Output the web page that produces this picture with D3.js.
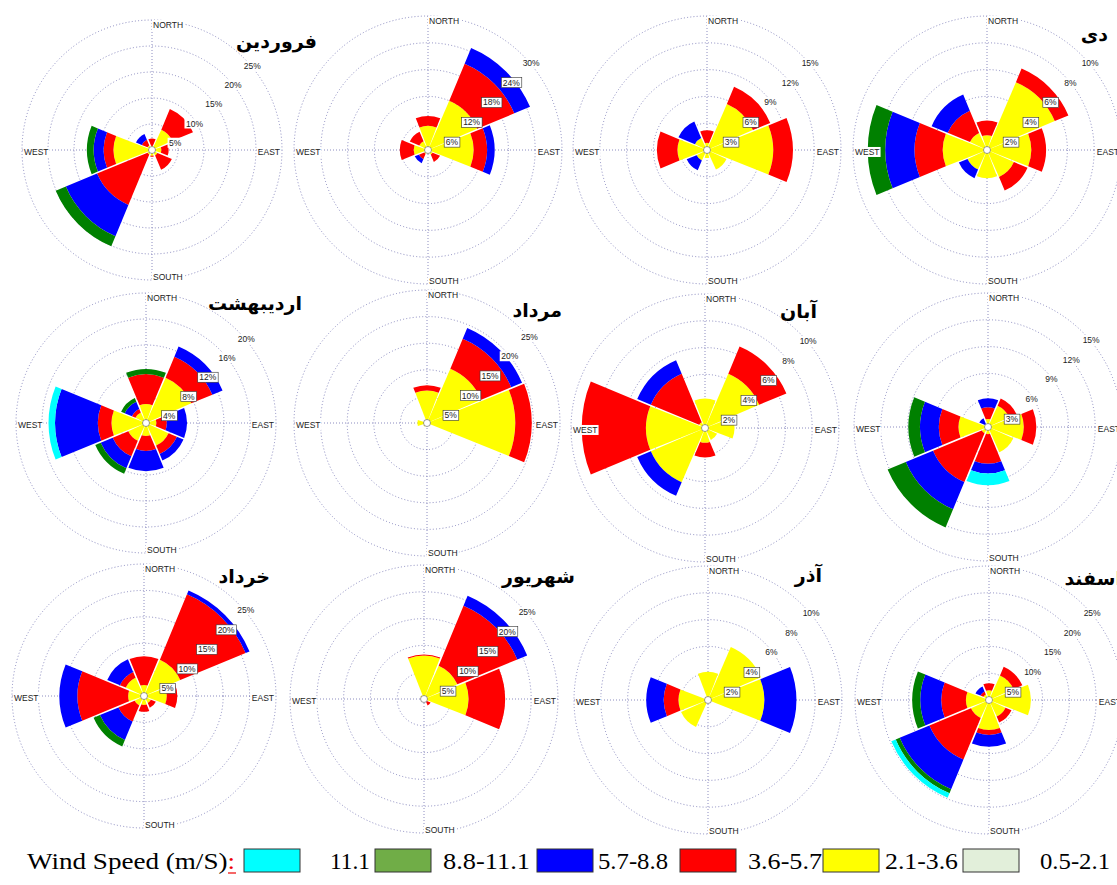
<!DOCTYPE html>
<html>
<head>
<meta charset="utf-8">
<script src="https://cdn.jsdelivr.net/npm/d3@7"></script>
<style>
  body { margin: 0; background: #fff; }
</style>
</head>
<body>
<svg id="chart" width="1117" height="885"></svg>
<script>
// sectors, clockwise from north
const directions = ["N", "NE", "E", "SE", "S", "SW", "W", "NW"];
const speedClasses = ["0.5-2.1", "2.1-3.6", "3.6-5.7", "5.7-8.8", "8.8-11.1", "11.1"];
const speedColors = ["#e2efda", "#ffff00", "#ff0000", "#0000ff", "#008000", "#00ffff"];
const legendColors = ["#e2efda", "#ffff00", "#ff0000", "#0000ff", "#70ad47", "#00ffff"];

const monthTitles = ["فروردین", "", "", "دی", "اردیبهشت", "مرداد", "آبان", "", "خرداد", "شهریور", "آذر", "اسفند"];
const ringMax = [25, 30, 15, 10, 20, 25, 10, 15, 25, 25, 10, 25];

// percent frequency per direction (rows) and speed class (columns)
const farvardin = [
    [0, 0.8, 1.4, 0, 0, 0],
    [0, 4.3, 4.3, 0, 0, 0],
    [0, 1.8, 1.4, 0, 0, 0],
    [0, 1.2, 3.0, 0, 0, 0],
    [0, 1.1, 0.2, 0, 0, 0],
    [0, 1.0, 10.5, 6.5, 2.1, 0],
    [0, 7.4, 1.9, 1.9, 1.3, 0],
    [0, 1.0, 1.2, 1.2, 0, 0]
];
const tir = [
    [0, 5.4, 2.2, 0, 0, 0],
    [0, 12.0, 9.0, 3.8, 0, 0],
    [0, 10.2, 3.0, 1.7, 0, 0],
    [0, 1.2, 1.8, 0, 0, 0],
    [0, 0.8, 0, 0, 0, 0],
    [0, 1.0, 1.3, 1.0, 0, 0],
    [0, 3.2, 3.1, 0, 0, 0],
    [0, 2.2, 2.3, 0, 0, 0]
];
const mehr = [
    [0, 0.8, 1.4, 0, 0, 0],
    [0, 5.6, 2.1, 0, 0, 0],
    [0, 7.4, 2.2, 0, 0, 0],
    [0, 2.4, 0, 0, 0, 0],
    [0, 0.9, 0, 0, 0, 0],
    [0, 1.3, 0, 1.2, 0, 0],
    [0, 3.3, 2.3, 0, 0, 0],
    [0, 1.5, 0, 2.0, 0, 0]
];
const dey = [
    [0, 1.1, 1.1, 0, 0, 0],
    [0, 5.5, 1.1, 0, 0, 0],
    [0, 3.3, 1.1, 0, 0, 0],
    [0, 2.2, 1.1, 0, 0, 0],
    [0, 2.1, 0, 0, 0, 0],
    [0, 1.6, 0, 0.7, 0, 0],
    [0, 3.3, 2.1, 2.2, 1.3, 0],
    [0, 1.4, 1.8, 1.3, 0, 0]
];
const ordibehesht = [
    [0, 2.9, 4.6, 0, 0.8, 0],
    [0, 7.6, 3.5, 1.7, 0, 0],
    [0, 1.6, 1.6, 3.1, 0, 0],
    [0, 3.8, 1.4, 1.1, 0, 0],
    [0, 2.0, 2.3, 3.1, 0, 0],
    [0, 3.0, 2.6, 2.0, 0.9, 0],
    [0, 5.3, 2.1, 6.6, 0, 1.0],
    [0, 1.8, 0.6, 1.2, 0.6, 0]
];
const mordad = [
    [0, 6.1, 1.0, 0, 0, 0],
    [0, 11.1, 6.1, 2.2, 0, 0],
    [0, 16.6, 3.1, 0, 0, 0],
    [0, 0.3, 0, 0, 0, 0],
    [0, 0.3, 0, 0, 0, 0],
    [0, 0.8, 0, 0, 0, 0],
    [0, 1.8, 0, 0, 0, 0],
    [0, 0.6, 0, 0, 0, 0]
];
const aban = [
    [0, 2.2, 0, 0, 0, 0],
    [0, 4.4, 2.2, 0, 0, 0],
    [0, 2.2, 0, 0, 0, 0],
    [0, 1.0, 0, 0, 0, 0],
    [0, 1.1, 1.1, 0, 0, 0],
    [0, 4.4, 0, 1.1, 0, 0],
    [0, 4.4, 4.8, 0, 0, 0],
    [0, 0.5, 3.9, 1.1, 0, 0]
];
const bahman = [
    [0, 0.9, 1.3, 1.0, 0, 0],
    [0, 2.6, 0.9, 0, 0, 0],
    [0, 4.0, 1.4, 0, 0, 0],
    [0, 3.1, 0, 0, 0, 0],
    [0, 0.8, 3.3, 1.1, 0, 1.3],
    [0, 0.8, 5.9, 3.3, 2.2, 0],
    [0, 3.3, 2.2, 2.1, 1.3, 0],
    [0, 0.4, 0, 0.7, 0, 0]
];
const khordad = [
    [0, 2.1, 5.4, 0, 0, 0],
    [0, 7.5, 13.4, 0.8, 0, 0],
    [0, 4.3, 2.0, 0, 0, 0],
    [0, 1.5, 1.0, 0, 0, 0],
    [0, 1.7, 1.3, 0, 0, 0],
    [0, 2.0, 3.3, 3.8, 1.3, 0],
    [0, 3.0, 9.6, 3.4, 0, 0],
    [0, 3.8, 1.2, 2.6, 0, 0]
];
const shahrivar = [
    [0, 8.1, 0.2, 0, 0, 0],
    [0, 6.8, 12.1, 2.0, 0, 0],
    [0, 8.3, 6.8, 0, 0, 0],
    [0, 0.4, 1.0, 0, 0, 0],
    [0, 0.2, 0, 0.3, 0, 0],
    [0, 0.2, 0, 0.3, 0, 0],
    [0, 0.3, 0, 0, 0, 0],
    [0, 0.8, 0, 0, 0, 0]
];
const azar = [
    [0, 2.1, 0, 0, 0, 0],
    [0, 4.3, 0, 0, 0, 0],
    [0, 4.2, 0, 2.4, 0, 0],
    [0, 0.2, 0, 0, 0, 0],
    [0, 0.2, 0, 0, 0, 0],
    [0, 2.2, 0, 0, 0, 0],
    [0, 2.2, 1.1, 1.3, 0, 0],
    [0, 0.3, 0, 0, 0, 0]
];
const esfand = [
    [0, 1.8, 1.3, 0, 0, 0],
    [0, 5.0, 1.8, 0, 0, 0],
    [0, 7.8, 0, 0, 0, 0],
    [0, 3.4, 1.2, 0, 0, 0],
    [0, 5.6, 0.9, 2.2, 0, 0],
    [0, 3.7, 8.4, 6.0, 0.8, 0.9],
    [0, 4.3, 4.6, 3.9, 1.5, 0],
    [0, 1.2, 0.6, 1.0, 0, 0]
];

const monthData = [farvardin, tir, mehr, dey, ordibehesht, mordad, aban, bahman, khordad, shahrivar, azar, esfand];

// where each rose sits on the page
const panels = [
    { cx: 152, cy: 150, R: 130, tx: 317, ty: 48 },
    { cx: 428, cy: 150, R: 134 },
    { cx: 707, cy: 150, R: 134 },
    { cx: 987, cy: 150, R: 134, tx: 1108, ty: 41 },
    { cx: 146, cy: 423, R: 130, tx: 302, ty: 310 },
    { cx: 427, cy: 423, R: 133, tx: 562, ty: 317 },
    { cx: 705, cy: 428, R: 134, tx: 817, ty: 318 },
    { cx: 988, cy: 427, R: 134 },
    { cx: 144, cy: 696, R: 132, tx: 270, ty: 583 },
    { cx: 424, cy: 699, R: 134, tx: 575, ty: 583 },
    { cx: 708, cy: 700, R: 134, tx: 822, ty: 582 },
    { cx: 989, cy: 700, R: 134, tx: 1122, ty: 585 }
];

const svg = d3.select("#chart");
svg.append("rect").attr("width", 1117).attr("height", 885).attr("fill", "#fff");

const gridColor = "#6f6fb0";
const labelFont = "'Liberation Sans', Arial, sans-serif";

function drawRose(p, rows, max, title) {
    const g = svg.append("g").attr("transform", `translate(${p.cx},${p.cy})`);
    const r = d3.scaleLinear().domain([0, max]).range([0, p.R]);
    const ticks = d3.range(1, 6).map(k => max * k / 5);

    // dotted rings
    g.selectAll("circle.ring")
        .data(ticks)
        .join("circle")
        .attr("class", "ring")
        .attr("r", d => r(d))
        .style("fill", "none")
        .style("stroke", gridColor)
        .style("stroke-width", 0.8)
        .style("stroke-dasharray", "1,2.2");

    // cross axes
    g.append("line").attr("x1", -p.R).attr("x2", p.R).attr("y1", 0).attr("y2", 0);
    g.append("line").attr("y1", -p.R).attr("y2", p.R).attr("x1", 0).attr("x2", 0);
    g.selectAll("line")
        .style("stroke", gridColor)
        .style("stroke-width", 0.8)
        .style("stroke-dasharray", "1,2");

    // stacked sectors
    const segs = [];
    rows.forEach((vals, i) => {
        let acc = 0;
        vals.forEach((v, k) => {
            if (v <= 0) return;
            segs.push({ dir: i, cls: k, r0: acc, r1: acc + v });
            acc += v;
        });
    });
    const arc = d3.arc().padAngle(0.016).padRadius(100);
    g.selectAll("path.seg")
        .data(segs)
        .join("path")
        .attr("class", "seg")
        .attr("d", d => arc({
            innerRadius: r(d.r0),
            outerRadius: r(d.r1),
            startAngle: d.dir * Math.PI / 4 - Math.PI / 8,
            endAngle: d.dir * Math.PI / 4 + Math.PI / 8
        }))
        .style("fill", d => speedColors[d.cls]);

    // calm circle
    g.append("circle").attr("r", 3.5)
        .style("fill", "#fff").style("stroke", "#555").style("stroke-width", 0.6);

    // compass labels
    const compass = [
        { t: "NORTH", x: 1, y: -p.R + 5, a: "start" },
        { t: "SOUTH", x: 1, y: p.R - 3, a: "start" },
        { t: "WEST", x: -p.R + 2, y: 2, a: "start" },
        { t: "EAST", x: p.R - 2, y: 2, a: "end" }
    ];
    compass.forEach(c => {
        const txt = g.append("text")
            .attr("x", c.x).attr("y", c.y)
            .attr("dy", "0.35em")
            .attr("text-anchor", c.a)
            .style("font-family", labelFont)
            .style("font-size", "8.5px")
            .style("fill", "#222")
            .text(c.t);
        const b = txt.node().getBBox();
        g.insert("rect", () => txt.node())
            .attr("x", b.x - 1).attr("y", b.y)
            .attr("width", b.width + 2).attr("height", b.height)
            .style("fill", "#fff");
    });

    // ring value labels
    const totals = rows.map(v => d3.sum(v));
    ticks.forEach(v => {
        const lx = 0.74 * r(v) + 4;
        const ly = -lx + 16;
        const ang = Math.atan2(-ly, lx) * 180 / Math.PI;
        const di = ((Math.round((90 - ang) / 45) % 8) + 8) % 8;
        const onBar = totals[di] > v * 0.97;
        const txt = g.append("text")
            .attr("x", lx).attr("y", ly)
            .attr("dy", "0.35em")
            .attr("text-anchor", "middle")
            .style("font-family", labelFont)
            .style("font-size", "8.5px")
            .style("fill", "#222")
            .text(v + "%");
        const b = txt.node().getBBox();
        g.insert("rect", () => txt.node())
            .attr("x", b.x - 1.5).attr("y", b.y)
            .attr("width", b.width + 3).attr("height", b.height)
            .style("fill", "#fff")
            .style("stroke", onBar ? "#333" : "none")
            .style("stroke-width", 0.6);
    });

    if (title) {
        svg.append("text")
            .attr("x", p.tx).attr("y", p.ty)
            .attr("text-anchor", "end")
            .style("font-family", "'DejaVu Sans', sans-serif")
            .style("font-weight", "bold")
            .style("font-size", "19px")
            .style("fill", "#000")
            .text(title);
    }
}

monthData.forEach((rows, i) => drawRose(panels[i], rows, ringMax[i], monthTitles[i]));

// legend (the source text is set wide, so stretch it to the same widths)
const legendOrder = [5, 4, 3, 2, 1, 0];
const legendBoxX = [244, 375, 537, 680, 823, 963];
const legendTextX = [330, 443, 598, 748, 885, 1040];
const legendTextW = [40, 87, 70, 74, 73, 70];
const legendY = 849;
const leg = svg.append("g");
const serif = "'Liberation Serif', 'Times New Roman', serif";
const head = leg.append("text")
    .attr("x", 27).attr("y", 869)
    .attr("textLength", 208)
    .attr("lengthAdjust", "spacingAndGlyphs")
    .style("font-family", serif)
    .style("font-size", "23px")
    .style("fill", "#000");
head.append("tspan").text("Wind Speed (m/S)");
head.append("tspan").style("fill", "#e00").text(":");
leg.append("line")
    .attr("x1", 228).attr("x2", 236)
    .attr("y1", 873).attr("y2", 873)
    .style("stroke", "#e00").style("stroke-width", 1.2);

legendOrder.forEach((k, j) => {
    leg.append("rect")
        .attr("x", legendBoxX[j]).attr("y", legendY)
        .attr("width", 56).attr("height", 23)
        .style("fill", legendColors[k])
        .style("stroke", "#333")
        .style("stroke-width", 1);
    leg.append("text")
        .attr("x", legendTextX[j]).attr("y", 869)
        .attr("textLength", legendTextW[j])
        .attr("lengthAdjust", "spacingAndGlyphs")
        .style("font-family", serif)
        .style("font-size", "23px")
        .style("fill", "#000")
        .text(speedClasses[k]);
});
</script>
</body>
</html>
